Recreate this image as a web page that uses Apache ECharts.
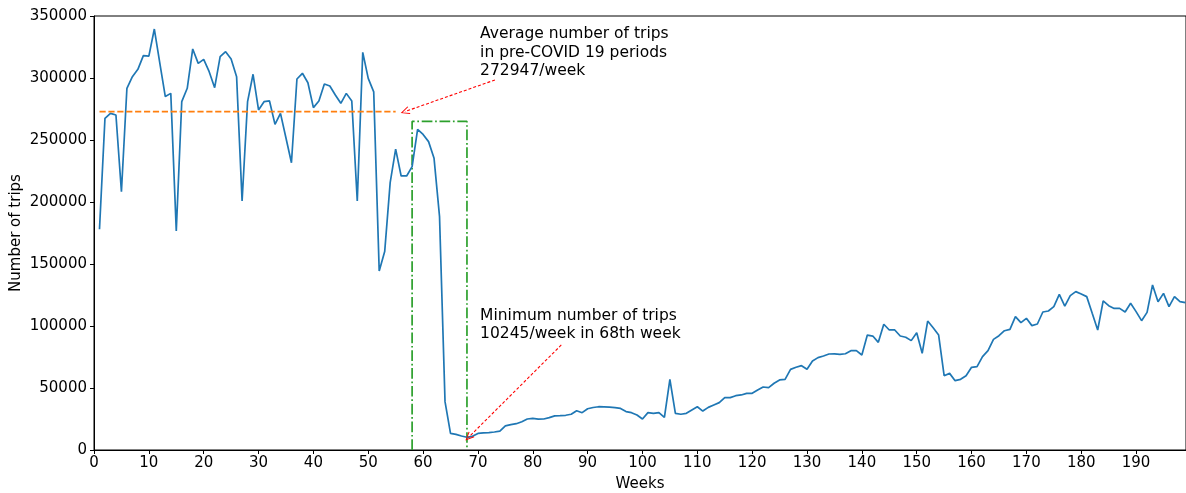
<!DOCTYPE html>
<html>
<head>
<meta charset="utf-8">
<script src="https://cdn.jsdelivr.net/npm/echarts@6/dist/echarts.min.js"></script>
<style>
  html, body { margin: 0; padding: 0; background: #fff; }
  #chart { width: 1186px; height: 493px; }
</style>
</head>
<body>
<div id="chart"></div>
<script>
// Weekly trip counts, one value per week starting at week 1
const firstWeek = 1;
const trips = [
  178000, 267500, 271500, 270200, 208300, 291700, 301100, 307000, 318000, 317700,
  339500, 312000, 285000, 287600, 176600, 280900, 291700, 323400, 311800, 315000,
  305100, 292200, 317200, 321200, 315300, 301100, 200800, 280900, 303000, 274200,
  280900, 281500, 262600, 271500, 251600, 231700, 299200, 303800, 296200, 276100,
  281500, 295200, 293500, 286300, 279600, 287600, 281500, 200800, 320700, 299700,
  288800, 144400, 160000, 215600, 242700, 221000, 221000, 228500, 258600, 254500,
  248700, 235200, 188200, 39000, 13400, 12600, 11300, 10245, 11000, 13400,
  13800, 14000, 14500, 15200, 19400, 20500, 21200, 22800, 25000, 25500,
  24900, 25000, 26100, 27500, 27700, 28000, 28800, 31700, 30100, 33300,
  34300, 34900, 34800, 34500, 34200, 33500, 31000, 30100, 28200, 25000,
  30100, 29600, 30100, 26300, 57000, 29600, 28800, 29600, 32300, 34900,
  31400, 34400, 36300, 38200, 42200, 42200, 43800, 44400, 45700, 45700,
  48400, 50800, 50300, 53800, 56500, 57000, 65000, 66700, 68000, 65100,
  71800, 74500, 75800, 77400, 77500, 77100, 77600, 80100, 80100, 76600,
  92700, 91900, 86800, 101400, 96800, 96800, 91900, 90900, 88200, 94600,
  78000, 104000, 98600, 92700, 59900, 61800, 55900, 57000, 59900, 66700,
  67200, 75300, 80100, 89200, 92200, 96200, 97300, 107500, 102700, 106200,
  100300, 101600, 111300, 112100, 115600, 125500, 116100, 124500, 127700, 125800,
  123700, 110200, 96800, 120200, 116400, 114200, 114200, 111300, 118300, 111600,
  104300, 111000, 133100, 119600, 126300, 115600, 123700, 119600, 118800
];

// Pre-COVID average and the span it covers
const preCovidAverage = 272947;
const preCovidWeeks = [1, 55];

// Lockdown window box: weeks and height
const lockdownWeeks = [58, 68];
const lockdownTop = 265000;

// Lowest week
const minWeek = 68;
const minTrips = 10245;

// Tick labels
const xTicks = [0, 10, 20, 30, 40, 50, 60, 70, 80, 90, 100, 110, 120, 130, 140, 150, 160, 170, 180, 190];
const yTicks = [0, 50000, 100000, 150000, 200000, 250000, 300000, 350000];

// Annotation texts and anchors [week, trips]
const avgText = 'Average number of trips\nin pre-COVID 19 periods\n' + preCovidAverage + '/week';
const avgTextAt = [70.4, 298000];
const avgArrowFrom = [73.1, 298400];
const avgArrowTo = [56.7, preCovidAverage];

const minText = 'Minimum number of trips\n' + minTrips + '/week in ' + minWeek + 'th week';
const minTextAt = [70.4, 85900];
const minArrowFrom = [85.2, 84700];
const minArrowTo = [68.3, minTrips];

const FONT = 'DejaVu Sans';
const tripSeries = trips.map((v, i) => [firstWeek + i, v]);

// thin open arrow head
const arrowHead = 'path://M5,0 L10,10 L8.9,10.6 L5,2.3 L1.1,10.6 L0,10 Z';

const chart = echarts.init(document.getElementById('chart'), null, { renderer: 'canvas' });

chart.setOption({
  animation: false,
  backgroundColor: '#fff',
  grid: {
    left: 94, right: 0, top: 16, bottom: 43,
    outerBoundsMode: 'none',
    containLabel: false,
    show: true, borderColor: '#000', borderWidth: 1
  },
  xAxis: {
    type: 'value',
    min: 0, max: 199.1,
    name: 'Weeks',
    nameLocation: 'middle',
    nameGap: 27,
    nameTextStyle: { fontFamily: FONT, fontSize: 15, color: '#000' },
    axisLine: { show: true, onZero: false, lineStyle: { color: '#000', width: 1 } },
    axisTick: { show: true, length: 4, lineStyle: { color: '#000' }, customValues: xTicks },
    axisLabel: { fontFamily: FONT, fontSize: 15, color: '#000', margin: 6, customValues: xTicks },
    splitLine: { show: false }
  },
  yAxis: {
    type: 'value',
    min: 0, max: 350000, interval: 50000,
    name: 'Number of trips',
    nameLocation: 'middle',
    nameGap: 70,
    nameMoveOverlap: false,
    nameRotate: 90,
    nameTextStyle: { fontFamily: FONT, fontSize: 15, color: '#000' },
    axisLine: { show: true, lineStyle: { color: '#000', width: 1 } },
    axisTick: { show: true, length: 4, lineStyle: { color: '#000' }, customValues: yTicks },
    axisLabel: {
      fontFamily: FONT, fontSize: 15, color: '#000', margin: 7,
      customValues: yTicks,
      formatter: v => String(v)
    },
    splitLine: { show: false }
  },
  series: [
    {
      name: 'Trips',
      type: 'line',
      data: tripSeries,
      showSymbol: false,
      symbol: 'none',
      lineStyle: { color: '#1f77b4', width: 1.7 },
      z: 3
    },
    {
      name: 'Pre-COVID average',
      type: 'line',
      data: preCovidWeeks.map(w => [w, preCovidAverage]),
      symbol: 'none',
      lineStyle: { color: '#ff7f0e', width: 1.7, type: [6.2, 2.7] },
      z: 4
    },
    {
      name: 'Lockdown window',
      type: 'line',
      data: [
        [lockdownWeeks[0], 0], [lockdownWeeks[0], lockdownTop],
        [lockdownWeeks[1], lockdownTop], [lockdownWeeks[1], 0]
      ],
      symbol: 'none',
      lineStyle: { color: '#2ca02c', width: 1.7, type: [10.7, 2.7, 1.7, 2.7] },
      z: 2
    },
    {
      name: 'Annotations',
      type: 'line',
      data: [],
      silent: true,
      markLine: {
        silent: true,
        animation: false,
        symbol: ['none', arrowHead],
        symbolSize: [8, 9],
        label: { show: false },
        lineStyle: { color: '#ff0000', width: 1.1, type: [3, 2] },
        emphasis: { disabled: true },
        data: [
          [{ coord: avgArrowFrom }, { coord: avgArrowTo }],
          [{ coord: minArrowFrom }, { coord: minArrowTo }]
        ]
      },
      markPoint: {
        silent: true,
        animation: false,
        symbol: 'circle',
        symbolSize: 0,
        itemStyle: { color: 'transparent' },
        label: {
          show: true,
          position: [0, 0],
          align: 'left',
          verticalAlign: 'bottom',
          fontFamily: FONT,
          fontSize: 15.5,
          lineHeight: 18.6,
          color: '#000'
        },
        data: [
          { coord: avgTextAt, label: { formatter: avgText } },
          { coord: minTextAt, label: { formatter: minText } }
        ]
      }
    }
  ]
});
</script>
</body>
</html>
